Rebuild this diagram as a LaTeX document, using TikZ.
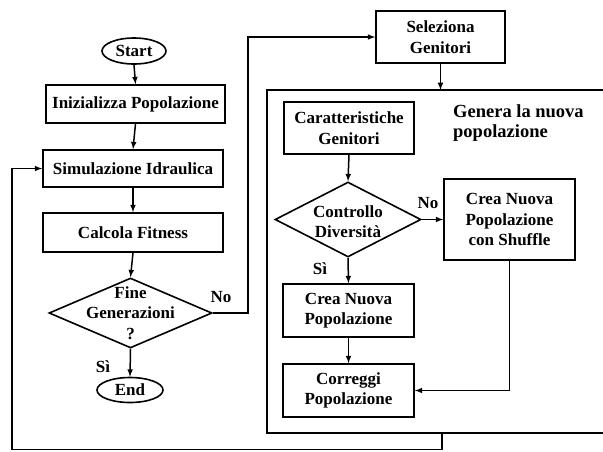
\documentclass[tikz,border=0pt]{standalone}
\usepackage{fontspec}
\setmainfont{Liberation Serif}
\usepackage{tikz}
\usetikzlibrary{shapes}
\usetikzlibrary{positioning}
\tikzset{my arrow/.style={-latex, line width=1.5pt}}
\tikzstyle{process} = [rectangle, draw, line width=1.6pt, align=center, inner sep=2pt]
\tikzstyle{terminal} = [ellipse, draw, line width=1.6pt, inner sep=1pt]
\tikzstyle{decision} = [diamond, draw, line width=1.6pt, inner sep=0pt]
\tikzstyle{answer} = [inner sep=0pt]

\begin{document}
\begin{tikzpicture}[x=1pt, y=-1pt]
  \tikzstyle{every node}=[font=\bfseries\fontsize{17}{20.5}\selectfont]
  \useasboundingbox (0,0) rectangle (603,451);

  % left column
  \node [terminal, minimum width=64pt, minimum height=26pt] (start) at (134,51) {Start};
  \node [process, minimum width=179pt, minimum height=38pt] (init) at (135.5,104) {Inizializza Popolazione};
  \node [process, minimum width=180pt, minimum height=37pt] (sim) at (133,168.5) {Simulazione Idraulica};
  \node [process, minimum width=180pt, minimum height=39pt] (fit) at (133,232.5) {Calcola Fitness};
  \node [decision, minimum width=163pt, minimum height=70pt,
         label={[align=center]center:Fine\\Generazioni\\?}] (fine) at (130.5,313) {};
  \node [terminal, minimum width=66pt, minimum height=25pt] (end) at (130,390) {End};
  \node [answer] (finesi) at (103,367) {Sì};
  \node [answer] (fineno) at (221,297) {No};

  % right column
  \node [process, minimum width=129pt, minimum height=52pt] (sel) at (440.5,37) {Seleziona\\Genitori};
  \coordinate (gbnw) at (267,90);
  \coordinate (gbsw) at (267,433);
  \coordinate (gbout) at (442,433);
  \draw [line width=1.6pt] (620,90) -- (gbnw) -- (gbsw) -- (620,433);
  \node [anchor=north west, align=left, inner sep=0pt, font=\bfseries\fontsize{18.5}{20.5}\selectfont] (gentitle) at (453,104) {Genera la nuova\\popolazione};

  \node [process, minimum width=130pt, minimum height=52pt] (car) at (349,128) {Caratteristiche\\Genitori};
  \node [decision, minimum width=146pt, minimum height=75pt,
         label={[align=center, yshift=-2pt]center:Controllo\\Diversità}] (ctrl) at (348,219.5) {};
  \node [process, minimum width=131pt, minimum height=81pt] (shuf) at (509.5,219.5) {Crea Nuova\\Popolazione\\con Shuffle};
  \node [process, minimum width=131pt, minimum height=53pt] (crea) at (348.5,310.5) {Crea Nuova\\Popolazione};
  \node [process, minimum width=131pt, minimum height=53pt] (corr) at (348.5,390.5) {Correggi\\Popolazione};
  \node [answer] (ctrlsi) at (320,269) {Sì};
  \node [answer] (ctrlno) at (428,203) {No};

  \coordinate (loopdown) at (442,449.5);
  \coordinate (loopleft) at (12,449.5);

  \draw [my arrow] (start.south) -- (init.north);
  \draw [my arrow] (init.south) -- (sim.north);
  \draw [my arrow] (sim.south) -- (fit.north);
  \draw [my arrow] (fit.south) -- (fine.north);
  \draw [my arrow] (fine.south) -- (end.north);
  \draw [my arrow] (fine.east) -- ++(35,0) |- (sel.west);
  \draw [my arrow] (sel.south) -- (sel.south |- gbnw);
  \draw [my arrow] (car.south) -- (ctrl.north);
  \draw [my arrow] (ctrl.east) -- (shuf.west);
  \draw [my arrow] (ctrl.south) -- (crea.north);
  \draw [my arrow] (crea.south) -- (corr.north);
  \draw [my arrow] (shuf.south) |- (corr.east);
  \draw [my arrow] (gbout) -- (loopdown) -- (loopleft) |- (sim.west);
\end{tikzpicture}
\end{document}
